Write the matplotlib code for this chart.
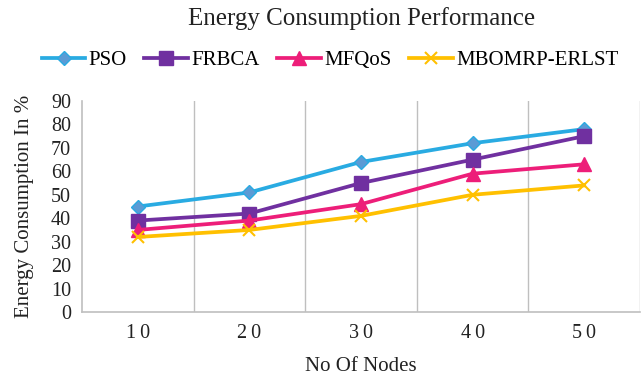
import matplotlib
matplotlib.use("Agg")
import matplotlib.pyplot as plt

categories = ["10", "20", "30", "40", "50"]
pso = [45, 51, 64, 72, 78]
frbca = [39, 42, 55, 65, 75]
mfqos = [35, 39, 46, 59, 63]
mbomrp = [32, 35, 41, 50, 54]
yticks = [0, 10, 20, 30, 40, 50, 60, 70, 80, 90]

plt.rcParams['font.family'] = ['Liberation Serif', 'DejaVu Serif']

fig = plt.figure(figsize=(6.41, 3.76), dpi=100)
ax = fig.add_axes([82/641, 1-312/376, (640-82)/641, (312-101)/376])

x = list(range(1, len(categories)+1))
l1, = ax.plot(x, pso, color='#29ABE2', lw=2.7, marker='D', ms=7.5, mfc='#5B9BD5', mec='#29ABE2', label='PSO')
l2, = ax.plot(x, frbca, color='#7030A0', lw=2.7, marker='s', ms=9.5, mfc='#7030A0', mec='#7030A0', label='FRBCA')
l3, = ax.plot(x, mfqos, color='#ED1E79', lw=2.7, marker='^', ms=10, mfc='#ED1E79', mec='#ED1E79', label='MFQoS')
l4, = ax.plot(x, mbomrp, color='#FFC000', lw=2.7, marker='x', ms=9, mew=1.5, label='MBOMRP-ERLST')

ax.set_xlim(0.5, len(categories)+0.5)
ax.set_ylim(0, 90)
ax.set_yticks(yticks)
ax.set_xticks(x)
ax.set_xticklabels(["\u2009".join(c) for c in categories])
for b in [i+0.5 for i in x]:
    ax.axvline(b, color='#BFBFBF', lw=1, zorder=0)
for s in ['top', 'right']:
    ax.spines[s].set_visible(False)
for s in ['left', 'bottom']:
    ax.spines[s].set_color('#BFBFBF')
    ax.spines[s].set_linewidth(1.2)
ax.tick_params(axis='both', length=0, labelsize=14.5, colors='#222222', pad=8)
ax.tick_params(axis='x', pad=9)
ax.set_xlabel("No Of Nodes", fontsize=15, color='#222222', labelpad=10)
ax.set_ylabel("Energy Consumption In %", fontsize=15, color='#222222', labelpad=12)

fig.text(362/641, 1-19/376, "Energy Consumption Performance", ha='center', va='center', fontsize=18, color='#222222')
fig.legend(handles=[l1, l2, l3, l4], loc='center', bbox_to_anchor=(330/641, 1-60/376), ncol=4,
           frameon=False, fontsize=15, handlelength=2.1, handletextpad=0.15, columnspacing=0.85,
           borderpad=0, borderaxespad=0)

fig.savefig("out.png", dpi=100)
